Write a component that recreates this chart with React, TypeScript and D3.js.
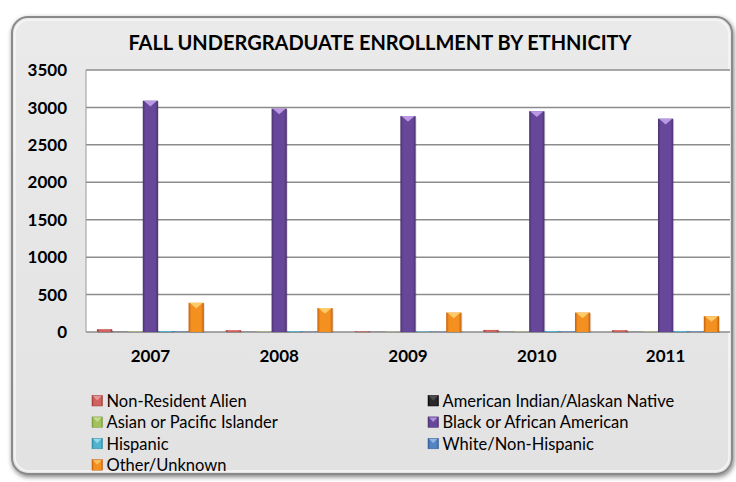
import React from "react";
import * as d3 from "d3";

const years = ["2007", "2008", "2009", "2010", "2011"];
const seriesNames = [
  "Non-Resident Alien",
  "American Indian/Alaskan Native",
  "Asian or Pacific Islander",
  "Black or African American",
  "Hispanic",
  "White/Non-Hispanic",
  "Other/Unknown",
];
const nonResident = [38, 25, 10, 28, 25];
const amIndian = [3, 2, 2, 2, 2];
const asian = [6, 5, 4, 5, 5];
const black = [3090, 2985, 2885, 2950, 2850];
const hispanic = [14, 12, 8, 14, 14];
const white = [8, 6, 6, 8, 8];
const other = [390, 320, 260, 260, 212];
const seriesValues = [nonResident, amIndian, asian, black, hispanic, white, other];
const yTicks = [0, 500, 1000, 1500, 2000, 2500, 3000, 3500];

const colors = [
  { edge: "#a13a38", mid: "#cf6360", top: "#e9a3a1" },
  { edge: "#050505", mid: "#2a2a2a", top: "#555555" },
  { edge: "#7d9a42", mid: "#a2c25e", top: "#cfe39e" },
  { edge: "#4c336f", mid: "#66479a", top: "#c3a2ea" },
  { edge: "#2f88a0", mid: "#50b4cf", top: "#a8e2f0" },
  { edge: "#335c94", mid: "#5283c2", top: "#a3c2ea" },
  { edge: "#c4600c", mid: "#f39020", top: "#fdd070" },
];

const W = 736;
const H = 482;
const plotLeft = 86;
const plotRight = 730;
const plotTop = 70;
const plotBottom = 332;

export default function App() {
  const x0 = d3
    .scaleBand<string>()
    .domain(years)
    .range([plotLeft, plotRight])
    .paddingInner(0.17)
    .paddingOuter(0.085);
  const x1 = d3
    .scaleBand<number>()
    .domain(d3.range(seriesNames.length))
    .range([0, x0.bandwidth()]);
  const y = d3.scaleLinear().domain([0, 3500]).range([plotBottom, plotTop]);

  const font = "Lato, 'Open Sans', sans-serif";

  const legendX = [92, 428];
  const legendY0 = 401;
  const legendDy = 21.4;

  return (
    <svg
      width={W}
      height={H}
      style={{ position: "absolute", left: 0, top: 0, background: "#ffffff" }}
      fontFamily={font}
    >
      <defs>
        <filter id="shadow" x="-5%" y="-5%" width="110%" height="110%">
          <feGaussianBlur in="SourceAlpha" stdDeviation="2.5" />
          <feOffset dx="1" dy="2" result="b" />
          <feComponentTransfer>
            <feFuncA type="linear" slope="0.5" />
          </feComponentTransfer>
          <feMerge>
            <feMergeNode />
            <feMergeNode in="SourceGraphic" />
          </feMerge>
        </filter>
        <linearGradient id="frameGrad" x1="0" y1="0" x2="0" y2="1">
          <stop offset="0" stopColor="#eaeaea" />
          <stop offset="1" stopColor="#e2e2e2" />
        </linearGradient>
        {colors.map((c, i) => (
          <linearGradient key={i} id={`bar${i}`} x1="0" y1="0" x2="1" y2="0">
            <stop offset="0" stopColor={c.edge} />
            <stop offset="0.18" stopColor={c.mid} />
            <stop offset="0.82" stopColor={c.mid} />
            <stop offset="1" stopColor={c.edge} />
          </linearGradient>
        ))}
      </defs>

      <rect
        x={12}
        y={17}
        width={720}
        height={457}
        rx={16}
        ry={16}
        fill="url(#frameGrad)"
        stroke="#8a8a8a"
        strokeWidth={2}
        filter="url(#shadow)"
      />
      <rect
        x={15}
        y={20}
        width={714}
        height={451}
        rx={14}
        ry={14}
        fill="none"
        stroke="#f6f6f6"
        strokeWidth={1.5}
      />

      <text
        x={380}
        y={50}
        textAnchor="middle"
        fontWeight="bold"
        fontSize={20}
        fill="#000"
      >
        FALL UNDERGRADUATE ENROLLMENT BY ETHNICITY
      </text>

      <rect
        x={plotLeft}
        y={plotTop}
        width={plotRight - plotLeft}
        height={plotBottom - plotTop}
        fill="#ffffff"
      />
      {yTicks.map((t) => (
        <g key={t}>
          <line
            x1={plotLeft}
            x2={plotRight}
            y1={y(t)}
            y2={y(t)}
            stroke="#8c8c8c"
            strokeWidth={1.5}
          />
          <text
            x={67}
            y={y(t)}
            dy="0.36em"
            textAnchor="end"
            fontWeight="bold"
            fontSize={17}
            fill="#000"
          >
            {t}
          </text>
        </g>
      ))}
      <line
        x1={plotLeft}
        x2={plotLeft}
        y1={plotTop}
        y2={plotBottom}
        stroke="#9a9a9a"
        strokeWidth={1}
      />

      {years.map((yr, yi) => (
        <g key={yr} transform={`translate(${x0(yr)},0)`}>
          {seriesValues.map((vals, si) => {
            const v = vals[yi];
            const bx = x1(si)!;
            const bw = x1.bandwidth();
            const top = y(v);
            const h = y(0) - top;
            const tri = Math.min(bw / 2, h);
            return (
              <g key={si}>
                <rect
                  x={bx + 1}
                  y={top + 1}
                  width={bw}
                  height={h}
                  fill="#000"
                  opacity={0.12}
                />
                <rect x={bx} y={top} width={bw} height={h} fill={`url(#bar${si})`} />
                {h > 6 && (
                  <path
                    d={`M${bx + 1},${top}L${bx + bw - 1},${top}L${bx + bw / 2},${top + tri * 0.75}Z`}
                    fill={colors[si].top}
                    opacity={0.9}
                  />
                )}
              </g>
            );
          })}
          <text
            x={x0.bandwidth() / 2}
            y={362}
            textAnchor="middle"
            fontWeight="bold"
            fontSize={17}
            fill="#000"
          >
            {yr}
          </text>
        </g>
      ))}

      {seriesNames.map((name, i) => {
        const col = i % 2;
        const row = Math.floor(i / 2);
        const lx = legendX[col];
        const ly = legendY0 + row * legendDy;
        return (
          <g key={name}>
            <rect
              x={lx}
              y={ly - 5.5}
              width={10.5}
              height={10.5}
              fill={`url(#bar${i})`}
              stroke={colors[i].edge}
              strokeWidth={0.5}
            />
            <path
              d={`M${lx + 1},${ly - 5}L${lx + 9.5},${ly - 5}L${lx + 5.25},${ly - 0.5}Z`}
              fill={colors[i].top}
              opacity={0.8}
            />
            <text x={lx + 14.5} y={ly} dy="0.35em" fontSize={16.5} fill="#000">
              {name}
            </text>
          </g>
        );
      })}
    </svg>
  );
}
